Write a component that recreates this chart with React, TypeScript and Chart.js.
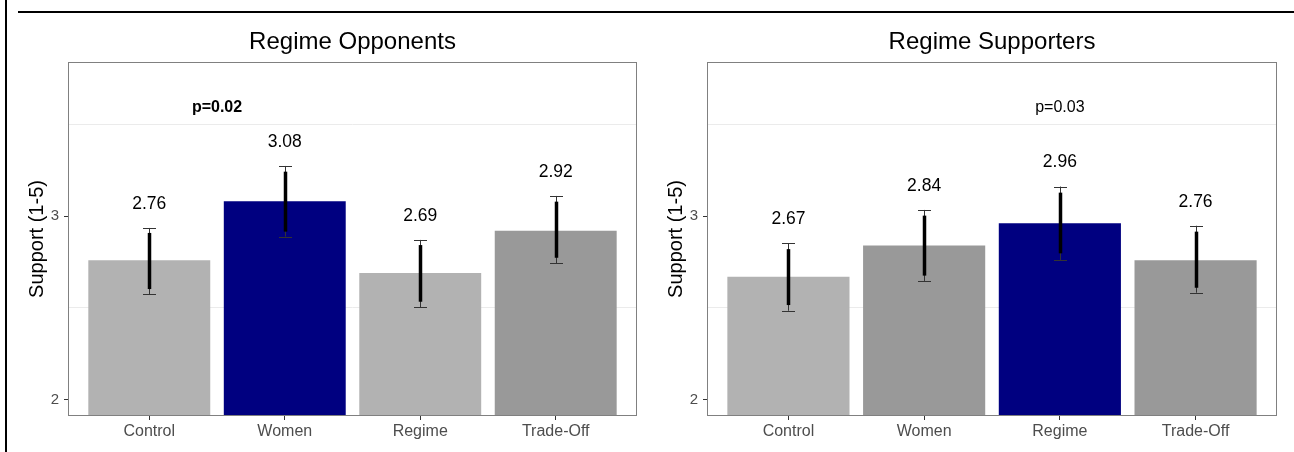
import React, { useEffect, useRef } from "react";
import { Chart, registerables } from "chart.js";

Chart.register(...registerables);

// ---------- data ----------
const categories = ["Control", "Women", "Regime", "Trade-Off"];
const categoryPositions = [1, 2, 3, 4];
const yTickValues = [2, 3];
const yGridValues = [2.5, 3.5];

// Regime opponents
const oppMeans = [2.76, 3.08, 2.69, 2.92];
const oppLo95 = [2.576, 2.888, 2.505, 2.743];
const oppHi95 = [2.935, 3.272, 2.87, 3.109];
const oppLo90 = [2.603, 2.915, 2.534, 2.773];
const oppHi90 = [2.908, 3.241, 2.842, 3.078];
const oppColors = ["#b2b2b2", "#000080", "#b2b2b2", "#999999"];
const oppPText = "p=0.02";
const oppPX = 1.5;
const oppPY = 3.59;

// Regime supporters
const supMeans = [2.67, 2.84, 2.96, 2.76];
const supLo95 = [2.485, 2.647, 2.761, 2.583];
const supHi95 = [2.851, 3.033, 3.16, 2.947];
const supLo90 = [2.516, 2.676, 2.797, 2.61];
const supHi90 = [2.82, 3.002, 3.127, 2.915];
const supColors = ["#b2b2b2", "#999999", "#000080", "#999999"];
const supPText = "p=0.03";
const supPX = 3;
const supPY = 3.59;

const labelOffset = 0.13;
const yMin = 1.913;
const yMax = 3.837;
const FONT = '"Liberation Sans", Arial, Helvetica, sans-serif';

type PanelSpec = {
  title: string;
  means: number[];
  lo95: number[];
  hi95: number[];
  lo90: number[];
  hi90: number[];
  colors: string[];
  pText: string;
  pX: number;
  pY: number;
  pBold: boolean;
  yAxisWidth: number;
  rightPad: number;
};

function makeConfig(spec: PanelSpec): any {
  const overlay = {
    id: "panelOverlay",
    afterDatasetsDraw(chart: any) {
      const ctx = chart.ctx as CanvasRenderingContext2D;
      const xs = chart.scales.x;
      const ys = chart.scales.y;
      const area = chart.chartArea;
      ctx.save();
      // error bars
      for (let i = 0; i < spec.means.length; i++) {
        const px = Math.round(xs.getPixelForValue(categoryPositions[i])) + 0.5;
        const yHi = ys.getPixelForValue(spec.hi95[i]);
        const yLo = ys.getPixelForValue(spec.lo95[i]);
        ctx.strokeStyle = "#333333";
        ctx.lineWidth = 1;
        ctx.beginPath();
        ctx.moveTo(px, yHi);
        ctx.lineTo(px, yLo);
        ctx.moveTo(px - 6.5, Math.round(yHi) + 0.5);
        ctx.lineTo(px + 6.5, Math.round(yHi) + 0.5);
        ctx.moveTo(px - 6.5, Math.round(yLo) + 0.5);
        ctx.lineTo(px + 6.5, Math.round(yLo) + 0.5);
        ctx.stroke();
        ctx.strokeStyle = "#000000";
        ctx.lineWidth = 3.5;
        ctx.lineCap = "butt";
        ctx.beginPath();
        ctx.moveTo(px, ys.getPixelForValue(spec.hi90[i]));
        ctx.lineTo(px, ys.getPixelForValue(spec.lo90[i]));
        ctx.stroke();
        // value label
        ctx.fillStyle = "#000000";
        ctx.font = `17.5px ${FONT}`;
        ctx.textAlign = "center";
        ctx.textBaseline = "middle";
        ctx.fillText(
          spec.means[i].toFixed(2),
          xs.getPixelForValue(categoryPositions[i]),
          ys.getPixelForValue(spec.hi95[i] + labelOffset)
        );
      }
      // p label
      ctx.font = `${spec.pBold ? "bold " : ""}16px ${FONT}`;
      ctx.fillStyle = "#000000";
      ctx.textAlign = "center";
      ctx.textBaseline = "middle";
      ctx.fillText(spec.pText, xs.getPixelForValue(spec.pX), ys.getPixelForValue(spec.pY));
      // panel border
      ctx.strokeStyle = "#808080";
      ctx.lineWidth = 1;
      ctx.strokeRect(
        Math.round(area.left) + 0.5,
        Math.round(area.top) + 0.5,
        Math.round(area.right - area.left) - 1,
        Math.round(area.bottom - area.top) - 1
      );
      // title
      ctx.font = `24px ${FONT}`;
      ctx.fillStyle = "#000000";
      ctx.textAlign = "center";
      ctx.textBaseline = "middle";
      ctx.fillText(spec.title, (area.left + area.right) / 2, 42);
      // y axis title
      ctx.save();
      ctx.translate(area.left - 31, (area.top + area.bottom) / 2);
      ctx.rotate(-Math.PI / 2);
      ctx.font = `20px ${FONT}`;
      ctx.fillText("Support (1-5)", 0, 0);
      ctx.restore();
      ctx.restore();
    },
  };

  return {
    type: "bar",
    data: {
      datasets: [
        {
          data: spec.means.map((m, i) => ({ x: categoryPositions[i], y: m })),
          backgroundColor: spec.colors,
          borderWidth: 0,
          categoryPercentage: 1,
          barPercentage: 0.9,
        },
      ],
    },
    plugins: [overlay],
    options: {
      responsive: false,
      animation: false,
      devicePixelRatio: 1,
      layout: { padding: { top: 62, left: 0, right: spec.rightPad, bottom: 0 } },
      plugins: { legend: { display: false }, tooltip: { enabled: false }, title: { display: false } },
      scales: {
        x: {
          type: "linear",
          min: 0.4,
          max: 4.6,
          offset: false,
          afterBuildTicks: (scale: any) => {
            scale.ticks = categoryPositions.map((v) => ({ value: v }));
          },
          afterFit: (scale: any) => {
            scale.height = 36;
          },
          ticks: {
            autoSkip: false,
            maxRotation: 0,
            padding: 2,
            color: "#4d4d4d",
            font: { family: FONT, size: 16 },
            callback: (v: any) => {
              const idx = categoryPositions.indexOf(Number(v));
              return idx >= 0 ? categories[idx] : "";
            },
          },
          grid: {
            offset: false,
            drawOnChartArea: false,
            drawTicks: true,
            tickLength: 4,
            tickColor: "#333333",
          },
          border: { display: false },
        },
        y: {
          type: "linear",
          min: yMin,
          max: yMax,
          afterBuildTicks: (scale: any) => {
            scale.ticks = [...yTickValues, ...yGridValues]
              .sort((a, b) => a - b)
              .map((v) => ({ value: v }));
          },
          afterFit: (scale: any) => {
            scale.width = spec.yAxisWidth;
          },
          ticks: {
            autoSkip: false,
            padding: 5,
            color: "#4d4d4d",
            font: { family: FONT, size: 15 },
            callback: (v: any) => (yTickValues.includes(Number(v)) ? String(v) : ""),
          },
          grid: {
            drawTicks: true,
            tickLength: 4,
            lineWidth: 1,
            color: (c: any) =>
              c.tick && yGridValues.includes(c.tick.value) ? "#ebebeb" : "rgba(0,0,0,0)",
            tickColor: (c: any) =>
              c.tick && yTickValues.includes(c.tick.value) ? "#333333" : "rgba(0,0,0,0)",
          },
          border: { display: false },
        },
      },
    },
  };
}

const leftSpec: PanelSpec = {
  title: "Regime Opponents",
  means: oppMeans,
  lo95: oppLo95,
  hi95: oppHi95,
  lo90: oppLo90,
  hi90: oppHi90,
  colors: oppColors,
  pText: oppPText,
  pX: oppPX,
  pY: oppPY,
  pBold: true,
  yAxisWidth: 68,
  rightPad: 10,
};

const rightSpec: PanelSpec = {
  title: "Regime Supporters",
  means: supMeans,
  lo95: supLo95,
  hi95: supHi95,
  lo90: supLo90,
  hi90: supHi90,
  colors: supColors,
  pText: supPText,
  pX: supPX,
  pY: supPY,
  pBold: false,
  yAxisWidth: 60,
  rightPad: 17,
};

function Panel({ spec, left }: { spec: PanelSpec; left: number }) {
  const ref = useRef<HTMLCanvasElement | null>(null);
  useEffect(() => {
    if (!ref.current) return;
    const chart = new Chart(ref.current, makeConfig(spec));
    return () => chart.destroy();
  }, [spec]);
  return (
    <canvas
      ref={ref}
      width={647}
      height={452}
      style={{ position: "absolute", left, top: 0, width: 647, height: 452 }}
    />
  );
}

export default function App() {
  return (
    <div
      style={{
        position: "absolute",
        left: 0,
        top: 0,
        width: 1294,
        height: 452,
        background: "#ffffff",
        overflow: "hidden",
      }}
    >
      <Panel spec={leftSpec} left={0} />
      <Panel spec={rightSpec} left={647} />
      <div style={{ position: "absolute", left: 5, top: 0, width: 2, height: 452, background: "#000" }} />
      <div style={{ position: "absolute", left: 18, top: 11, width: 1276, height: 2, background: "#000" }} />
    </div>
  );
}
